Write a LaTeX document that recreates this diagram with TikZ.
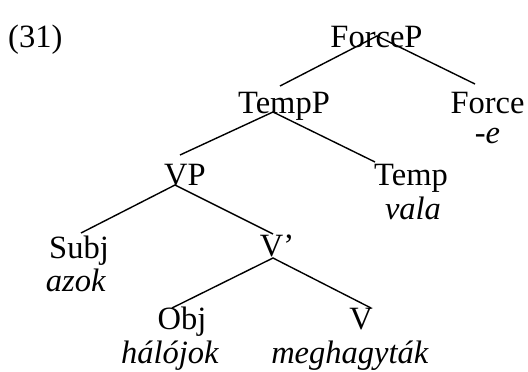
\documentclass[tikz,border=0pt]{standalone}
\usepackage{fontspec}
\setmainfont{Liberation Serif}
\begin{document}
\begin{tikzpicture}[x=1pt,y=-1pt,
  lbl/.style={inner sep=0pt,anchor=base,font=\fontsize{32.5}{39}\selectfont},
  branch/.style={line width=1.4pt}]
\useasboundingbox (0,0) rectangle (528,372);
\node[lbl,anchor=base west] (ex) at (8,47) {(31)};
\node[lbl] (forcep) at (376.5,47) {ForceP};
\node[lbl] (tempp) at (284,113) {TempP};
\node[lbl] (force) at (487.5,113) {Force};
\node[lbl] (e) at (487.5,143) {-\textit{e}};
\node[lbl] (vp) at (185,185) {VP};
\node[lbl] (temp) at (411,185) {Temp};
\node[lbl] (vala) at (413,219) {\textit{vala}};
\node[lbl] (subj) at (79,258) {Subj};
\node[lbl] (azok) at (76,291) {\textit{azok}};
\node[lbl] (vbar) at (277,256) {V’};
\node[lbl] (obj) at (182,329) {Obj};
\node[lbl] (v) at (361,329) {V};
\node[lbl] (halojok) at (170,363) {\textit{hálójok}};
\node[lbl] (meg) at (350,363) {\textit{meghagyták}};
\coordinate (forcep-b) at (377,36);
\coordinate (tempp-t) at (280,86);
\coordinate (force-t) at (475,84);
\coordinate (tempp-b) at (273,112);
\coordinate (vp-t) at (180,155);
\coordinate (temp-t) at (375,162);
\coordinate (vp-b) at (175,185);
\coordinate (subj-t) at (81,233);
\coordinate (vbar-t) at (273,234);
\coordinate (vbar-b) at (273,258);
\coordinate (obj-t) at (172,308);
\coordinate (v-t) at (371,308);
\draw[branch] (tempp-t) -- (forcep-b) -- (force-t);
\draw[branch] (vp-t) -- (tempp-b) -- (temp-t);
\draw[branch] (subj-t) -- (vp-b) -- (vbar-t);
\draw[branch] (obj-t) -- (vbar-b) -- (v-t);
\end{tikzpicture}
\end{document}
